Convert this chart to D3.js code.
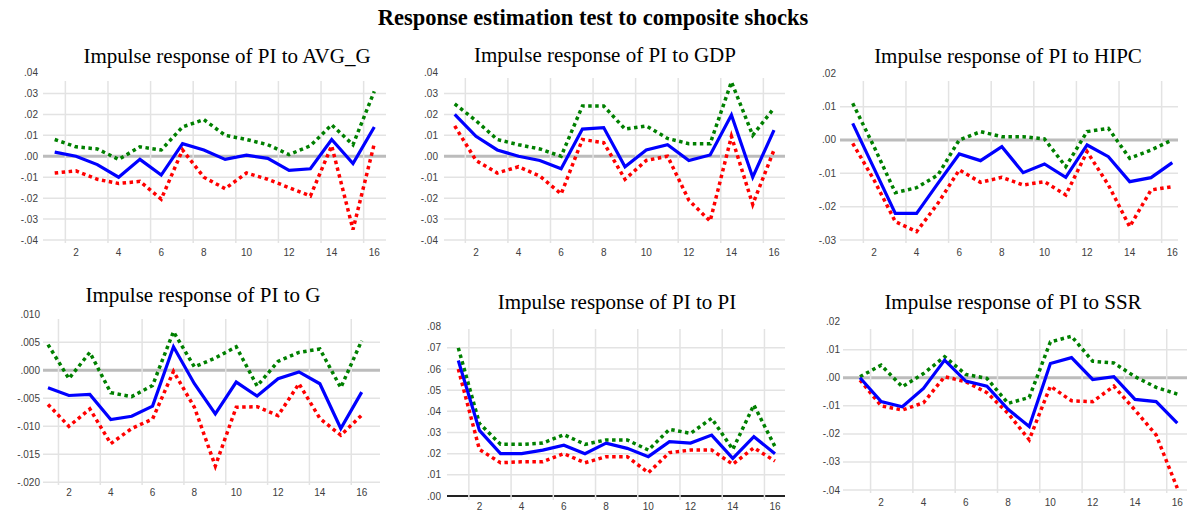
<!DOCTYPE html>
<meta charset="utf-8">
<html>
<head>
  <style>
    body { margin: 0; background: #fff; }
    svg { display: block; }
    .title { font-family: "Liberation Serif", "Times New Roman", serif; fill: #000; }
    .tick { font-family: "Liberation Sans", Arial, sans-serif; font-size: 10px; fill: #404040; }
  </style>
</head>
<body>
<svg width="1187" height="512"></svg>
<script src="https://d3js.org/d3.v7.min.js"></script>
<script>
  const periods = [1, 2, 3, 4, 5, 6, 7, 8, 9, 10, 11, 12, 13, 14, 15, 16];
  const xTickLabels = [2, 4, 6, 8, 10, 12, 14, 16];

  // PI to AVG_G
  const avgG_mid = [0.002, 0.000, -0.004, -0.010, -0.0015, -0.009, 0.006, 0.003, -0.0015, 0.0005, -0.001, -0.0067, -0.006, 0.008, -0.0035, 0.014];
  const avgG_up  = [0.008, 0.0045, 0.0035, -0.0015, 0.0045, 0.003, 0.014, 0.0175, 0.010, 0.008, 0.0055, 0.0008, 0.005, 0.015, 0.0055, 0.031];
  const avgG_lo  = [-0.008, -0.007, -0.011, -0.013, -0.012, -0.0205, 0.003, -0.010, -0.0155, -0.008, -0.011, -0.015, -0.019, 0.005, -0.035, 0.006];
  const avgG_ticks = [0.04, 0.03, 0.02, 0.01, 0.00, -0.01, -0.02, -0.03, -0.04];

  // PI to GDP
  const gdp_mid = [0.020, 0.0095, 0.003, 0.000, -0.002, -0.006, 0.013, 0.0137, -0.005, 0.003, 0.0055, -0.002, 0.0006, 0.0197, -0.010, 0.0125];
  const gdp_up  = [0.025, 0.017, 0.008, 0.0055, 0.0035, 0.000, 0.024, 0.024, 0.013, 0.0145, 0.0085, 0.006, 0.006, 0.0355, 0.010, 0.023];
  const gdp_lo  = [0.0145, -0.002, -0.008, -0.005, -0.0095, -0.018, 0.008, 0.0065, -0.011, -0.002, 0.000, -0.021, -0.031, 0.0095, -0.023, 0.003];
  const gdp_ticks = [0.04, 0.03, 0.02, 0.01, 0.00, -0.01, -0.02, -0.03, -0.04];

  // PI to HIPC
  const hipc_mid = [0.005, -0.0085, -0.022, -0.022, -0.013, -0.0042, -0.0062, -0.002, -0.0098, -0.0072, -0.0112, -0.0015, -0.005, -0.0125, -0.0113, -0.0068];
  const hipc_up  = [0.011, -0.002, -0.0158, -0.0143, -0.0105, 0.000, 0.0025, 0.001, 0.001, 0.0003, -0.008, 0.0025, 0.0035, -0.0055, -0.003, 0.000];
  const hipc_lo  = [-0.001, -0.012, -0.0245, -0.0275, -0.019, -0.009, -0.0127, -0.0112, -0.0135, -0.0125, -0.0165, -0.0035, -0.0135, -0.026, -0.015, -0.014];
  const hipc_ticks = [0.02, 0.01, 0.00, -0.01, -0.02, -0.03];

  // PI to G
  const g_mid = [-0.0031, -0.0045, -0.0043, -0.0088, -0.0082, -0.0064, 0.0042, -0.0024, -0.0078, -0.0021, -0.0046, -0.0015, -0.0003, -0.0024, -0.0104, -0.0039];
  const g_up  = [0.0046, -0.0015, 0.0032, -0.004, -0.0047, -0.0027, 0.0069, 0.0006, 0.0022, 0.0042, -0.0028, 0.0016, 0.0032, 0.0038, -0.0031, 0.0053];
  const g_lo  = [-0.0061, -0.010, -0.0069, -0.0131, -0.0104, -0.0087, -0.0002, -0.0066, -0.0171, -0.0066, -0.0065, -0.0081, -0.0024, -0.0086, -0.0116, -0.008];
  const g_ticks = [0.010, 0.005, 0.000, -0.005, -0.010, -0.015, -0.020];

  // PI to PI
  const pi_mid = [0.064, 0.031, 0.020, 0.020, 0.0217, 0.024, 0.020, 0.025, 0.0225, 0.0186, 0.0257, 0.025, 0.0288, 0.0178, 0.028, 0.020];
  const pi_up  = [0.070, 0.0343, 0.0244, 0.0244, 0.025, 0.029, 0.0244, 0.0265, 0.0265, 0.0217, 0.0315, 0.0296, 0.0367, 0.022, 0.043, 0.0233];
  const pi_lo  = [0.060, 0.022, 0.0157, 0.0162, 0.0162, 0.020, 0.0157, 0.0186, 0.0186, 0.011, 0.0205, 0.0217, 0.0217, 0.015, 0.0228, 0.0165];
  const pi_ticks = [0.08, 0.07, 0.06, 0.05, 0.04, 0.03, 0.02, 0.01, 0.00];

  // PI to SSR
  const ssr_mid = [0.000, -0.0085, -0.0103, -0.0038, 0.0063, -0.0012, -0.003, -0.0112, -0.0174, 0.0051, 0.0072, -0.0006, 0.0004, -0.0077, -0.0085, -0.0162];
  const ssr_up  = [0.0004, 0.0045, -0.0032, 0.0015, 0.0075, 0.0012, -0.0002, -0.0091, -0.007, 0.0128, 0.0148, 0.0059, 0.0053, 0.0004, -0.0034, -0.0058];
  const ssr_lo  = [-0.0008, -0.010, -0.0115, -0.0089, 0.0004, -0.0014, -0.0053, -0.0127, -0.0221, -0.003, -0.0082, -0.0085, -0.003, -0.0115, -0.0204, -0.0393];
  const ssr_ticks = [0.02, 0.01, 0.00, -0.01, -0.02, -0.03, -0.04];

  const panels = [
    { title: "Impulse response of PI to AVG_G", mid: avgG_mid, up: avgG_up, lo: avgG_lo, ticks: avgG_ticks, dec: 2 },
    { title: "Impulse response of PI to GDP", mid: gdp_mid, up: gdp_up, lo: gdp_lo, ticks: gdp_ticks, dec: 2 },
    { title: "Impulse response of PI to HIPC", mid: hipc_mid, up: hipc_up, lo: hipc_lo, ticks: hipc_ticks, dec: 2 },
    { title: "Impulse response of PI to G", mid: g_mid, up: g_up, lo: g_lo, ticks: g_ticks, dec: 3 },
    { title: "Impulse response of PI to PI", mid: pi_mid, up: pi_up, lo: pi_lo, ticks: pi_ticks, dec: 2, darkBase: true },
    { title: "Impulse response of PI to SSR", mid: ssr_mid, up: ssr_up, lo: ssr_lo, ticks: ssr_ticks, dec: 2 }
  ];

  // pixel layout of each panel (x of period 1 / 16, y of top / bottom tick, grid box, titles)
  const layout = [
    { x1: 54.7, x16: 374.3, yTop: 72.5, yBot: 240, gl: 43, gr: 386, vt: 81, vb: 243, lx: 38, xl: 256, tx: 227, ty: 63 },
    { x1: 454.7, x16: 774, yTop: 72.5, yBot: 240, gl: 444, gr: 785, vt: 78, vb: 243, lx: 438, xl: 256, tx: 605, ty: 62 },
    { x1: 852.7, x16: 1172.3, yTop: 73.3, yBot: 240, gl: 840, gr: 1178, vt: 81, vb: 243, lx: 836, xl: 256, tx: 1008, ty: 63 },
    { x1: 48, x16: 361.7, yTop: 314.3, yBot: 482.3, gl: 43, gr: 380, vt: 319, vb: 485, lx: 40, xl: 495.5, tx: 203, ty: 302 },
    { x1: 458.3, x16: 775, yTop: 326.7, yBot: 496, gl: 447, gr: 785, vt: 329, vb: 500, lx: 441, xl: 510, tx: 617, ty: 309 },
    { x1: 860, x16: 1177.3, yTop: 321.7, yBot: 490, gl: 843, gr: 1187, vt: 329, vb: 493, lx: 840, xl: 505.5, tx: 1013, ty: 309 }
  ];

  const svg = d3.select("svg");

  svg.append("text")
    .attr("class", "title")
    .attr("x", 593)
    .attr("y", 25)
    .attr("text-anchor", "middle")
    .style("font-size", "22.5px")
    .style("font-weight", "bold")
    .text("Response estimation test to composite shocks");

  const fmt = (v, dec) => {
    const s = d3.format("." + dec + "f")(Math.abs(v)).replace(/^0/, "");
    return (v < 0 ? "-" : "") + s;
  };

  panels.forEach((p, i) => {
    const L = layout[i];
    const x = d3.scaleLinear().domain([1, 16]).range([L.x1, L.x16]);
    const y = d3.scaleLinear().domain([d3.min(p.ticks), d3.max(p.ticks)]).range([L.yBot, L.yTop]);
    const g = svg.append("g");

    // horizontal grid (not at the top tick)
    g.selectAll(".hgrid")
      .data(p.ticks.filter(t => t !== d3.max(p.ticks)))
      .enter().append("line")
      .attr("x1", L.gl).attr("x2", L.gr)
      .attr("y1", d => y(d)).attr("y2", d => y(d))
      .attr("stroke", "#e3e3e3")
      .attr("stroke-width", 1.5);

    // zero line
    if (p.darkBase) {
      g.append("line")
        .attr("x1", L.gl).attr("x2", L.gr)
        .attr("y1", y(0)).attr("y2", y(0))
        .attr("stroke", "#222").attr("stroke-width", 2);
    } else {
      g.append("line")
        .attr("x1", L.gl).attr("x2", L.gr)
        .attr("y1", y(0)).attr("y2", y(0))
        .attr("stroke", "#bcbcbc").attr("stroke-width", 3);
    }

    // vertical grid between the labelled periods
    g.selectAll(".vgrid")
      .data([1.5, 3.5, 5.5, 7.5, 9.5, 11.5, 13.5, 15.5])
      .enter().append("line")
      .attr("x1", d => x(d)).attr("x2", d => x(d))
      .attr("y1", L.vt).attr("y2", L.vb)
      .attr("stroke", "#e3e3e3")
      .attr("stroke-width", 1.5);

    // y tick labels
    g.selectAll(".ylab")
      .data(p.ticks)
      .enter().append("text")
      .attr("class", "tick")
      .attr("x", L.lx)
      .attr("y", d => y(d) + 3.5)
      .attr("text-anchor", "end")
      .text(d => fmt(d, p.dec));

    // x tick labels
    g.selectAll(".xlab")
      .data(xTickLabels)
      .enter().append("text")
      .attr("class", "tick")
      .attr("x", d => x(d))
      .attr("y", L.xl)
      .attr("text-anchor", "middle")
      .text(d => d);

    const line = d3.line()
      .x((d, j) => x(periods[j]))
      .y(d => y(d));

    g.append("path").datum(p.up)
      .attr("d", line).attr("fill", "none")
      .attr("stroke", "#008000").attr("stroke-width", 3.5)
      .attr("stroke-dasharray", "3.5,3.5");
    g.append("path").datum(p.lo)
      .attr("d", line).attr("fill", "none")
      .attr("stroke", "#ff0000").attr("stroke-width", 3.5)
      .attr("stroke-dasharray", "3.5,3.5");
    g.append("path").datum(p.mid)
      .attr("d", line).attr("fill", "none")
      .attr("stroke", "#0000ff").attr("stroke-width", 3.2);

    svg.append("text")
      .attr("class", "title")
      .attr("x", L.tx)
      .attr("y", L.ty)
      .attr("text-anchor", "middle")
      .style("font-size", "21px")
      .text(p.title);
  });
</script>
</body>
</html>
